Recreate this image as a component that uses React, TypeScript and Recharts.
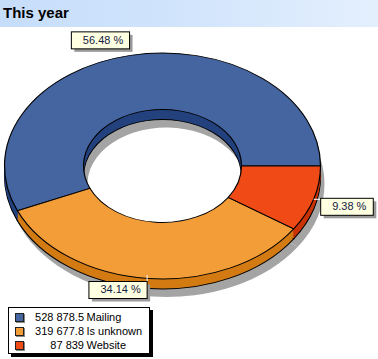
import { PieChart, Pie, Cell } from 'recharts'

const categories = ['Mailing', 'Is unknown', 'Website']
const values = [528878.5, 319677.8, 87839]
const valueLabels = ['528 878.5', '319 677.8', '87 839']

const topColors = ['#4565a1', '#f39d38', '#f04b16']
const sideColors = ['#23427e', '#d37b13', '#c83205']
const shadowColor = '#a4a4a4'

const data = categories.map((name, i) => ({ name, value: values[i] }))

// vertical squash used to fake the tilted 3D look
const K = 0.715
const CX = 162.5
const CY = 166 / K
const R = 158
const IR = 79
const DEPTH = 10 / K
const sideOffsets = [7, 6, 5, 4, 3, 2, 1].map((s) => (DEPTH * s) / 7)

const FONT = '"Liberation Sans", Arial, sans-serif'

function renderLabel(props: any) {
  const { cx, cy, midAngle, outerRadius, percent } = props
  const rad = (-midAngle * Math.PI) / 180
  const cos = Math.cos(rad)
  const sin = Math.sin(rad)
  const ex = cx + outerRadius * cos
  const ey = cy + outerRadius * sin
  const text = `${(percent * 100).toFixed(2)} %`
  const w = text.length * 5.6 + 19
  const h = 17
  let bx: number
  let by: number
  let line: number[] | null = null
  if (Math.abs(cos) > 0.8) {
    bx = cos > 0 ? 7 : -7 - w
    by = -0.5
    line = cos > 0 ? [0, 0.5, 7, 0.5] : [0, 0.5, -7, 0.5]
  } else {
    bx = cos > 0 ? 1 : -w - 1
    if (sin > 0) {
      by = 3
      line = [-1, -3.5, -1, 3]
    } else {
      by = -6.5 - h
    }
  }
  return (
    <g transform={`translate(${ex} ${ey}) scale(1 ${1 / K})`}>
      {line && (
        <line x1={line[0]} y1={line[1]} x2={line[2]} y2={line[3]} stroke="#fff" strokeWidth={1} />
      )}
      <rect x={bx + 3} y={by + 3} width={w} height={h} fill="#9a9a9a" />
      <rect x={bx} y={by} width={w} height={h} fill="#ffffe1" stroke="#000" strokeWidth={1} />
      <text x={bx + 11.5} y={by + 12} fontSize={11} fontFamily={FONT} fill="#142044">
        {text}
      </text>
    </g>
  )
}

export default function App() {
  return (
    <div
      style={{
        position: 'fixed',
        left: 0,
        top: 0,
        width: 378,
        height: 359,
        background: '#fff',
        overflow: 'hidden',
        fontFamily: FONT,
      }}
    >
      <div
        style={{
          position: 'absolute',
          left: 0,
          top: 0,
          width: 378,
          height: 27,
          background: 'linear-gradient(to right, #c6ddfa 0%, #d0e4fc 45%, #e4effd 100%)',
        }}
      >
        <div style={{ position: 'absolute', left: 3, top: 4, fontSize: 15, fontWeight: 'bold', color: '#000' }}>
          This year
        </div>
      </div>

      <div
        style={{
          position: 'absolute',
          left: 0,
          top: 0,
          width: 378,
          height: 359 / K,
          transform: `scaleY(${K})`,
          transformOrigin: '0 0',
        }}
      >
        <PieChart width={378} height={359 / K} margin={{ top: 0, right: 0, bottom: 0, left: 0 }}>
          <Pie
            data={data}
            dataKey="value"
            cx={CX + 4}
            cy={CY + DEPTH + 8 / K}
            outerRadius={R}
            innerRadius={IR}
            startAngle={0}
            endAngle={360}
            stroke="none"
            fill={shadowColor}
            isAnimationActive={false}
          />
          {sideOffsets.map((off, j) => (
            <Pie
              key={j}
              data={data}
              dataKey="value"
              cx={CX}
              cy={CY + off}
              outerRadius={R}
              innerRadius={IR}
              startAngle={0}
              endAngle={360}
              stroke={j === 0 ? '#000' : 'none'}
              strokeWidth={1.2}
              isAnimationActive={false}
            >
              {data.map((d, i) => (
                <Cell key={d.name} fill={sideColors[i]} />
              ))}
            </Pie>
          ))}
          <Pie
            data={data}
            dataKey="value"
            cx={CX}
            cy={CY}
            outerRadius={R}
            innerRadius={IR}
            startAngle={0}
            endAngle={360}
            stroke="#000"
            strokeWidth={1.2}
            label={renderLabel}
            labelLine={false}
            isAnimationActive={false}
          >
            {data.map((d, i) => (
              <Cell key={d.name} fill={topColors[i]} />
            ))}
          </Pie>
        </PieChart>
      </div>

      <div
        style={{
          position: 'absolute',
          left: 8,
          top: 307,
          width: 140,
          height: 45,
          background: '#fff',
          border: '1px solid #000',
          boxShadow: '3px 3px 0 #000',
          fontSize: 11,
          color: '#000',
        }}
      >
        {categories.map((name, i) => (
          <div
            key={name}
            style={{ position: 'absolute', left: 0, top: 2 + i * 13.8, height: 14, width: 140, lineHeight: '14px' }}
          >
            <div
              style={{
                position: 'absolute',
                left: 6,
                top: 3,
                width: 7,
                height: 7,
                background: topColors[i],
                border: '1px solid #202020',
                boxShadow: '1px 1px 0 #888',
              }}
            />
            <div style={{ position: 'absolute', right: 140 - 75, top: 0, whiteSpace: 'nowrap', textAlign: 'right' }}>
              {valueLabels[i]}
            </div>
            <div style={{ position: 'absolute', left: 77.5, top: 0, whiteSpace: 'nowrap' }}>{name}</div>
          </div>
        ))}
      </div>
    </div>
  )
}
